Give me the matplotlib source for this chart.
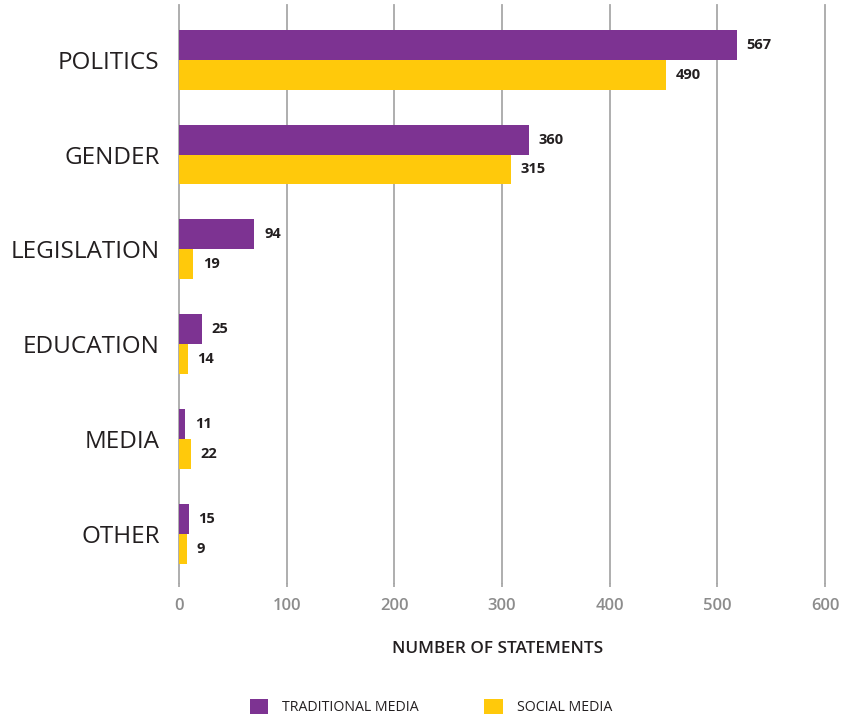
import matplotlib
matplotlib.use("Agg")
import matplotlib.pyplot as plt
from matplotlib.patches import Patch
import numpy as np

categories = ["POLITICS", "GENDER", "LEGISLATION", "EDUCATION", "MEDIA", "OTHER"]
traditional_bar = [518, 325, 70, 21, 5.5, 9]
social_bar = [452, 308, 13, 8, 11, 7.5]
traditional_labels = ["567", "360", "94", "25", "11", "15"]
social_labels = ["490", "315", "19", "14", "22", "9"]
x_ticks = [0, 100, 200, 300, 400, 500, 600]
series_names = ["TRADITIONAL MEDIA", "SOCIAL MEDIA"]
x_title = "NUMBER OF STATEMENTS"

PURPLE = "#7D3392"
YELLOW = "#FFC90B"
GRID = "#a8a8a8"
DARK = "#231f20"

plt.rcParams["font.family"] = ["Open Sans", "DejaVu Sans"]

W, H = 846, 717
fig = plt.figure(figsize=(W / 100, H / 100), dpi=100)
ax = fig.add_axes([179 / W, 1 - 583 / H, (825 - 179) / W, (583 - 5) / H])

y = np.arange(len(categories))
bh = 0.316
ax.barh(y - bh / 2, traditional_bar, height=bh, color=PURPLE, zorder=3)
ax.barh(y + bh / 2, social_bar, height=bh, color=YELLOW, zorder=3)

ax.set_ylim(5.52, -0.577)
ax.set_xlim(0, 600)

for t in x_ticks:
    ax.axvline(t, color=GRID, lw=1.3, zorder=1, clip_on=False)

for s in ax.spines.values():
    s.set_visible(False)

ax.set_yticks(y)
ax.set_yticklabels(categories, fontsize=17.5, color=DARK)
ax.tick_params(axis="y", length=0, pad=14)
ax.set_xticks(x_ticks)
ax.set_xticklabels([str(t) for t in x_ticks], fontsize=12, color="#8c8c8c", fontweight="semibold")
ax.tick_params(axis="x", length=3, width=1.3, color=GRID, pad=8)

for yi, v, lab in zip(y, traditional_bar, traditional_labels):
    ax.annotate(lab, xy=(v, yi - bh / 2), xytext=(7, 0), textcoords="offset points",
                va="center", ha="left", fontsize=10.5, fontweight="bold", color=DARK)
for yi, v, lab in zip(y, social_bar, social_labels):
    ax.annotate(lab, xy=(v, yi + bh / 2), xytext=(7, 0), textcoords="offset points",
                va="center", ha="left", fontsize=10.5, fontweight="bold", color=DARK)

fig.text(498 / W, 1 - 649 / H, x_title, ha="center", va="center",
         fontsize=12.3, fontweight="semibold", color=DARK)

handles = [Patch(facecolor=PURPLE, edgecolor="none"), Patch(facecolor=YELLOW, edgecolor="none")]
fig.legend(handles, series_names, loc="center", bbox_to_anchor=(431 / W, 1 - 707 / H),
           ncol=2, frameon=False, fontsize=10.2, handlelength=1.3, handleheight=1.3,
           handletextpad=1.0, columnspacing=4.6, labelcolor=DARK, borderpad=0, borderaxespad=0)

fig.savefig("out.png", dpi=100)
